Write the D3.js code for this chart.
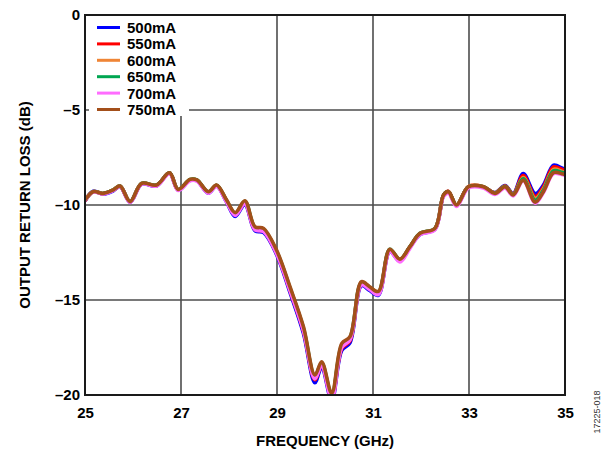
<!DOCTYPE html>
<html>
<head>
<meta charset="utf-8">
<script src="https://cdn.jsdelivr.net/npm/d3@7"></script>
<style>
  body { margin: 0; background: #fff; }
  text { font-family: 'Liberation Sans', Arial, sans-serif; }
</style>
</head>
<body>
<svg id="chart" width="608" height="449"></svg>
<script>
// frequency points (GHz) shared by every trace
const freqs = [25.0, 25.17, 25.38, 25.59, 25.73, 25.94, 26.18, 26.49, 26.76, 26.94, 27.19, 27.33, 27.57, 27.74, 27.95, 28.13, 28.33, 28.54, 28.72, 28.99, 29.27, 29.55, 29.79, 29.93, 30.14, 30.35, 30.52, 30.76, 30.93, 31.11, 31.35, 31.56, 31.77, 31.98, 32.29, 32.47, 32.57, 32.74, 32.99, 33.3, 33.54, 33.75, 33.92, 34.13, 34.38, 34.55, 34.76, 34.93, 35.0];

const rl500 = [-9.8, -9.28, -9.42, -9.25, -9.02, -9.85, -8.9, -9.0, -8.32, -9.22, -8.7, -8.72, -9.38, -9.0, -9.85, -10.6, -9.98, -11.35, -11.45, -12.6, -14.6, -16.75, -19.35, -18.55, -20.3, -17.65, -17.25, -14.25, -14.5, -14.75, -12.45, -12.95, -12.22, -11.55, -11.28, -9.5, -9.3, -10.02, -9.05, -9.06, -9.35, -8.98, -9.4, -8.35, -9.4, -8.95, -7.9, -8.05, -8.15];
const rl550 = [-9.78, -9.3, -9.4, -9.22, -9.01, -9.83, -8.88, -8.97, -8.31, -9.2, -8.68, -8.7, -9.34, -8.98, -9.8, -10.52, -9.9, -11.28, -11.38, -12.52, -14.5, -16.62, -19.2, -18.45, -20.15, -17.55, -17.15, -14.18, -14.42, -14.68, -12.4, -12.9, -12.2, -11.52, -11.26, -9.48, -9.28, -10.0, -9.03, -9.04, -9.36, -9.0, -9.42, -8.45, -9.55, -9.05, -8.0, -8.12, -8.2];
const rl600 = [-9.76, -9.3, -9.4, -9.21, -9.0, -9.83, -8.87, -8.96, -8.3, -9.19, -8.66, -8.69, -9.32, -8.97, -9.78, -10.48, -9.85, -11.22, -11.32, -12.46, -14.42, -16.54, -19.1, -18.38, -20.05, -17.45, -17.06, -14.12, -14.38, -14.63, -12.37, -12.88, -12.2, -11.5, -11.25, -9.48, -9.29, -10.0, -9.03, -9.04, -9.37, -9.02, -9.44, -8.55, -9.65, -9.15, -8.12, -8.22, -8.28];
const rl650 = [-9.75, -9.3, -9.39, -9.2, -9.0, -9.82, -8.86, -8.95, -8.3, -9.18, -8.65, -8.68, -9.31, -8.96, -9.76, -10.44, -9.8, -11.18, -11.27, -12.42, -14.36, -16.47, -19.02, -18.3, -19.98, -17.36, -16.98, -14.07, -14.33, -14.58, -12.33, -12.86, -12.19, -11.49, -11.23, -9.47, -9.3, -10.0, -9.04, -9.04, -9.38, -9.03, -9.46, -8.62, -9.75, -9.22, -8.2, -8.28, -8.34];
const rl700 = [-9.76, -9.32, -9.42, -9.23, -9.03, -9.86, -8.9, -9.0, -8.35, -9.24, -8.72, -8.74, -9.38, -9.02, -9.84, -10.55, -9.93, -11.3, -11.4, -12.55, -14.5, -16.6, -19.15, -18.45, -20.2, -17.5, -17.1, -14.2, -14.45, -14.72, -12.45, -13.0, -12.28, -11.56, -11.3, -9.55, -9.38, -10.08, -9.1, -9.1, -9.44, -9.1, -9.52, -8.72, -9.9, -9.34, -8.35, -8.4, -8.45];
const rl750 = [-9.74, -9.3, -9.39, -9.2, -9.0, -9.82, -8.86, -8.95, -8.3, -9.18, -8.65, -8.68, -9.3, -8.95, -9.74, -10.4, -9.78, -11.14, -11.23, -12.37, -14.3, -16.4, -18.95, -18.25, -19.9, -17.28, -16.93, -14.04, -14.3, -14.55, -12.33, -12.85, -12.19, -11.49, -11.23, -9.47, -9.3, -10.0, -9.04, -9.04, -9.39, -9.04, -9.47, -8.7, -9.85, -9.3, -8.3, -8.35, -8.4];

const seriesNames = ['500mA', '550mA', '600mA', '650mA', '700mA', '750mA'];
const seriesValues = [rl500, rl550, rl600, rl650, rl700, rl750];
const seriesColors = ['#0000ff', '#ff0000', '#ef8536', '#00a651', '#ff6cff', '#a34f1a'];

const xTicks = [25, 27, 29, 31, 33, 35];
const yTicks = [0, -5, -10, -15, -20];

const svg = d3.select('#chart'),
  margin = { left: 85, right: 43, top: 15, bottom: 54 },
  width = 608 - margin.left - margin.right,
  height = 449 - margin.top - margin.bottom,
  fontSize = '15px';

const x = d3.scaleLinear().domain([25, 35]).range([0, width]),
  y = d3.scaleLinear().domain([-20, 0]).range([height, 0]);

const g = svg.append('g').attr('transform', `translate(${margin.left},${margin.top})`);

g.append('clipPath')
  .attr('id', 'plotclip')
  .append('rect')
  .attr('width', width)
  .attr('height', height);

// grid
g.append('g')
  .selectAll('line')
  .data(xTicks.slice(1, -1))
  .join('line')
  .attr('x1', d => x(d))
  .attr('x2', d => x(d))
  .attr('y1', 0)
  .attr('y2', height)
  .attr('stroke', '#4d4d4d')
  .attr('stroke-width', 1.6);

g.append('g')
  .selectAll('line')
  .data(yTicks.slice(1, -1))
  .join('line')
  .attr('x1', 0)
  .attr('x2', width)
  .attr('y1', d => y(d))
  .attr('y2', d => y(d))
  .attr('stroke', '#4d4d4d')
  .attr('stroke-width', 1.6);

// legend box hides grid behind it
g.append('rect')
  .attr('x', 4)
  .attr('y', 1)
  .attr('width', 100)
  .attr('height', 100)
  .attr('fill', '#fff');

const line = d3.line()
  .x((d, i) => x(freqs[i]))
  .y(d => y(d))
  .curve(d3.curveCatmullRom.alpha(0.5));

g.append('g')
  .attr('clip-path', 'url(#plotclip)')
  .selectAll('path')
  .data(seriesValues)
  .join('path')
  .attr('d', line)
  .attr('fill', 'none')
  .attr('stroke', (d, i) => seriesColors[i])
  .attr('stroke-width', 3.6)
  .attr('stroke-linejoin', 'round');

// frame
g.append('rect')
  .attr('width', width)
  .attr('height', height)
  .attr('fill', 'none')
  .attr('stroke', '#1a1a1a')
  .attr('stroke-width', 2);

// axes
const xAxis = g.append('g')
  .attr('transform', `translate(0,${height})`)
  .call(d3.axisBottom(x).tickValues(xTicks).tickSize(0).tickPadding(12));
const yAxis = g.append('g')
  .call(d3.axisLeft(y).tickValues(yTicks).tickSize(0).tickPadding(5)
    .tickFormat(d => (d < 0 ? '\u2013' + Math.abs(d) : d)));

[xAxis, yAxis].forEach(a => {
  a.select('.domain').remove();
  a.selectAll('text')
    .attr('fill', '#000')
    .style('font-size', fontSize)
    .style('font-weight', 'bold')
    .style('font-family', "'Liberation Sans', Arial, sans-serif");
});

// legend
const legend = g.append('g')
  .selectAll('g')
  .data(seriesNames)
  .join('g')
  .attr('transform', (d, i) => `translate(12,${12.5 + i * 16.4})`);

legend.append('line')
  .attr('x1', 0)
  .attr('x2', 23)
  .attr('stroke', (d, i) => seriesColors[i])
  .attr('stroke-width', 3);

legend.append('text')
  .attr('x', 30)
  .attr('dy', '0.36em')
  .style('font-size', fontSize)
  .style('font-weight', 'bold')
  .text(d => d);

// axis titles
svg.append('text')
  .attr('x', margin.left + width / 2)
  .attr('y', 446)
  .attr('text-anchor', 'middle')
  .style('font-size', fontSize)
  .style('font-weight', 'bold')
  .text('FREQUENCY (GHz)');

svg.append('text')
  .attr('transform', `translate(30,${margin.top + height / 2}) rotate(-90)`)
  .attr('text-anchor', 'middle')
  .style('font-size', fontSize)
  .style('font-weight', 'bold')
  .text('OUTPUT RETURN LOSS (dB)');

svg.append('text')
  .attr('transform', 'translate(600,412) rotate(-90)')
  .attr('text-anchor', 'middle')
  .attr('fill', '#333')
  .style('font-size', '9px')
  .text('17225-018');
</script>
</body>
</html>
